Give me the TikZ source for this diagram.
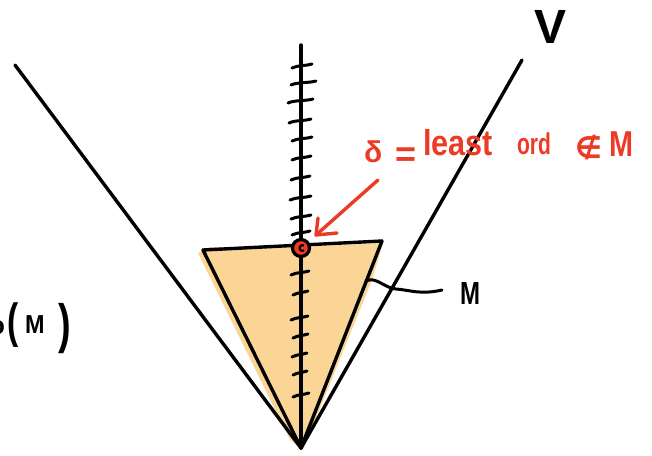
\documentclass[tikz,border=0pt]{standalone}
\usepackage{fontspec}
\setmainfont{Liberation Sans}
\newfontfamily\symfont{DejaVu Sans}
\definecolor{handred}{RGB}{236,58,38}
\definecolor{mfill}{RGB}{250,213,150}
\begin{document}
\begin{tikzpicture}[x=1pt,y=-1pt,
  ink/.style={line width=3.4pt,line cap=round,line join=round,black},
  tickmark/.style={line width=3pt,line cap=round,black},
  redink/.style={line width=3.4pt,line cap=round,line join=round,handred},
  lbl/.style={inner sep=0pt,outer sep=0pt,text=black},
  redlbl/.style={inner sep=0pt,outer sep=0pt,text=handred,font=\bfseries\fontsize{36}{36}\selectfont}]
\useasboundingbox (0,0) rectangle (652,455);
% coordinates
\coordinate (apex) at (301,448);
\coordinate (vl) at (15,65);
\coordinate (vr) at (522,60);
\coordinate (axtop) at (301,45);
\coordinate (tl) at (203,250);
\coordinate (tr) at (382,241);
\coordinate (dot) at (301,248);
% filled M
\fill[mfill] (198,253) -- (210,247) -- (300,247) -- (383,243) -- (372,280) -- (303,450) -- (290,440) -- cycle;
% V lines
\draw[ink] (vl) -- (apex);
\draw[ink] (vr) -- (apex);
% triangle M edges
\draw[ink] (tl) -- (tr);
\draw[ink] (tl) -- (apex);
\draw[ink] (tr) -- (apex);
% axis
\draw[ink] (axtop) -- (apex);
% ticks
\foreach \y/\a/\b in {66/292/312,83/291/316,101/288/313,121/289/311,139/292/312,158/292/311,178/291/310,198/290/311,217/291/311,233/292/310,
  273/291/309,293/293/308,318/291/308,336/293/308,355/292/307,373/293/307,395/293/309}
  \draw[tickmark] (\a,\y+2) .. controls (\a+6,\y-1) and (\b-6,\y) .. (\b,\y-2);
% red dot
\node[circle,draw=black,line width=3.2pt,fill=handred,minimum size=17pt,inner sep=0pt] (rdot) at (dot) {};
\draw[line width=2pt,black] ([shift={(3,-2.5)}]dot) arc[start angle=60,end angle=300,radius=3pt];
% red arrow
\coordinate (arstart) at (378,180);
\coordinate (artip) at (316,235);
\coordinate (barb1) at (318,218);
\coordinate (barb2) at (337,233);
\draw[redink] (arstart) -- (artip);
\draw[redink] (barb1) -- (artip) -- (barb2);
% red label
\node[redlbl,anchor=base west,font=\bfseries\fontsize{30}{30}\selectfont] (delta) at (364,162) {δ};
\node[redlbl,anchor=base west] (eq) at (395,166) {=};
\node[redlbl,anchor=base west,xscale=0.85] (least) at (423,155) {least};
\node[redlbl,anchor=base west,xscale=0.7,font=\bfseries\fontsize{30}{30}\selectfont] (ord) at (517,154) {ord};
\node[redlbl,anchor=base west,font=\symfont\bfseries\fontsize{30}{30}\selectfont] (notin) at (575,158) {∉};
\node[redlbl,anchor=base west,xscale=0.8] (mred) at (609,156) {M};
% M label with squiggle
\coordinate (medge) at (366,281);
\node[lbl,anchor=base west,font=\bfseries\fontsize{32}{32}\selectfont,xscale=0.75] (mlab) at (460,304) {M};
\draw[line width=3pt,line cap=round] (medge) .. controls (376,276) and (384,288) .. (396,289) .. controls (410,290) and (420,295) .. (442,290);
% V label
\node[lbl,anchor=base west,font=\bfseries\fontsize{48}{48}\selectfont] (vlab) at (534,43) {V};
% left partial label
\node[lbl,anchor=base east,font=\bfseries\fontsize{26}{26}\selectfont] (olab) at (5,334) {o};
\node[lbl,anchor=base west,font=\bfseries\fontsize{48}{48}\selectfont,xscale=0.7] (lpar) at (8,337) {(};
\node[lbl,anchor=base west,font=\bfseries\fontsize{26}{26}\selectfont,xscale=0.9] (mlow) at (25,333) {M};
\node[lbl,anchor=base west,font=\bfseries\fontsize{54}{54}\selectfont,xscale=0.7] (rpar) at (58,342) {)};
\end{tikzpicture}
\end{document}
